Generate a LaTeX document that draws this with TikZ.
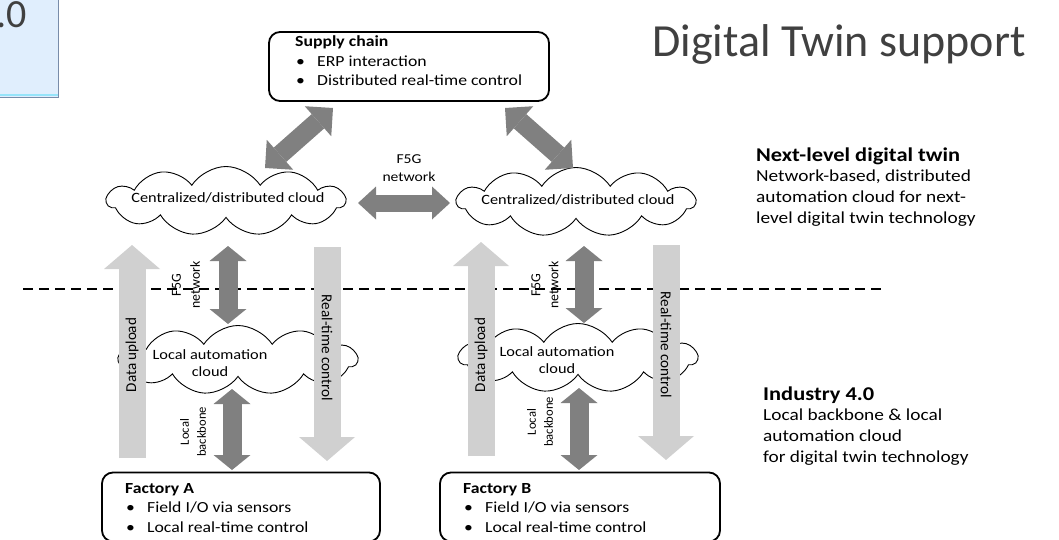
\documentclass[tikz,border=0pt]{standalone}
\usepackage{fontspec}
\setmainfont{Carlito}[FakeStretch=1.15]
\newfontfamily\plainfont{Carlito}
\usetikzlibrary{shapes.symbols,arrows.meta}
\definecolor{dgray}{RGB}{128,128,128}
\definecolor{lgray}{RGB}{208,208,208}
\definecolor{titlecol}{RGB}{64,64,64}
\definecolor{boxblue}{RGB}{224,238,253}
\definecolor{boxedge}{RGB}{120,140,170}
\definecolor{boxcyan}{RGB}{150,228,250}
\newcommand{\bul}{\hspace*{1pt}\makebox[21pt][l]{\textbullet}}
\begin{document}
\begin{tikzpicture}[x=1pt,y=-1pt,
  rbox/.style={draw=black, line width=1.8pt, rounded corners=11pt, fill=white},
  cloudsh/.style={cloud, draw=black, line width=0.9pt, fill=white, cloud puffs=11, cloud puff arc=115, aspect=3.4, inner sep=0pt, minimum width=238, minimum height=69},
  fatdark/.style={draw=dgray, line width=19pt, arrows={Triangle[length=15pt 0 0, width=37pt 0 0, line width=0pt]-Triangle[length=15pt 0 0, width=37pt 0 0, line width=0pt]}},
  fatdiag/.style={draw=dgray, line width=19pt, arrows={Triangle[length=20pt 0 0, width=40pt 0 0, line width=0pt]-Triangle[length=20pt 0 0, width=40pt 0 0, line width=0pt]}},
  fathor/.style={draw=dgray, line width=17pt, arrows={Triangle[length=18pt 0 0, width=33pt 0 0, line width=0pt]-Triangle[length=18pt 0 0, width=33pt 0 0, line width=0pt]}},
  fatlight/.style={draw=lgray, line width=27pt, arrows={-Triangle[length=24pt 0 0, width=56pt 0 0, line width=0pt]}},
  boxtext/.style={anchor=base west, inner sep=0pt, font=\fontsize{15.4}{19.5}\selectfont},
  sidetext/.style={anchor=base west, inner sep=0pt, font=\fontsize{16.8}{20.7}\selectfont},
  rottext/.style={inner sep=0pt, align=center},
  cloudtext/.style={align=center, inner sep=0pt, font=\fontsize{14.2}{17}\selectfont},
]
\useasboundingbox (0,0) rectangle (1059,540);

% partial box top-left
\fill[boxblue] (-10,-10) rectangle (59,97);
\draw[boxcyan, line width=2.5pt] (-10,95) -- (58,95);
\draw[boxedge, line width=1.2pt] (58.4,-10) -- (58.4,97.4) -- (-10,97.4);
\node[anchor=base east, inner sep=0pt, text=titlecol, font=\plainfont\fontsize{40}{40}\selectfont] (partial) at (27,28) {4.0};

% title
\node[anchor=base west, inner sep=0pt, text=titlecol, font=\plainfont\fontsize{46}{46}\selectfont] (title) at (652,57) {Digital Twin support};

% dashed separator
\coordinate (dl) at (23,289);
\coordinate (dr) at (885,289);
\draw[black, line width=1.2pt, dash pattern=on 10pt off 6pt] (dl) -- (dr);

% clouds
\node[cloudsh] (cl1) at (226,201) {};
\node[cloudsh] (cl2) at (576,202) {};
\node[cloudsh] (lc1) at (238,360) {};
\node[cloudsh] (lc2) at (578,358) {};
\node[cloudtext] (cl1t) at (228,198) {Centralized/distributed cloud};
\node[cloudtext] (cl2t) at (578,200) {Centralized/distributed cloud};
\node[cloudtext] (lc1t) at (210,363) {Local automation\\cloud};
\node[cloudtext] (lc2t) at (557,360) {Local automation\\cloud};

% boxes
\node[rbox, minimum width=280, minimum height=69, inner sep=0pt] (supply) at (409,66.5) {};
\node[rbox, minimum width=278, minimum height=69, inner sep=0pt] (facA) at (241,507) {};
\node[rbox, minimum width=280, minimum height=69, inner sep=0pt] (facB) at (580,507) {};

\node[boxtext] (supplyt) at (295,47) {\begin{tabular}[t]{@{}l@{}}\textbf{Supply chain}\\ \bul ERP interaction\\ \bul Distributed real-time control\end{tabular}};
\node[boxtext] (facAt) at (125,493) {\begin{tabular}[t]{@{}l@{}}\textbf{Factory A}\\ \bul Field I/O via sensors\\ \bul Local real-time control\end{tabular}};
\node[boxtext] (facBt) at (463,493) {\begin{tabular}[t]{@{}l@{}}\textbf{Factory B}\\ \bul Field I/O via sensors\\ \bul Local real-time control\end{tabular}};

% arrow end points
\coordinate (sa1) at (333,108); \coordinate (sa2) at (265,168);
\coordinate (sb1) at (505,108); \coordinate (sb2) at (573,168);
\coordinate (h1) at (358,203); \coordinate (h2) at (450,203);
\coordinate (ua1) at (228,246); \coordinate (ua2) at (228,324);
\coordinate (ub1) at (584,246); \coordinate (ub2) at (584,323);
\coordinate (ba1) at (232,389); \coordinate (ba2) at (232,470);
\coordinate (bb1) at (579,388); \coordinate (bb2) at (579,470);
\coordinate (da1) at (132,458); \coordinate (da2) at (132,245);
\coordinate (db1) at (481,456); \coordinate (db2) at (481,242);
\coordinate (ra1) at (327,247); \coordinate (ra2) at (327,461);
\coordinate (rb1) at (666,245); \coordinate (rb2) at (666,460);

\draw[fatdiag] (sa1) -- (sa2);
\draw[fatdiag] (sb1) -- (sb2);
\draw[fathor] (h1) -- (h2);
\draw[fatdark] (ua1) -- (ua2);
\draw[fatdark] (ub1) -- (ub2);
\draw[fatdark] (ba1) -- (ba2);
\draw[fatdark] (bb1) -- (bb2);
\draw[fatlight] (da1) -- (da2);
\draw[fatlight] (db1) -- (db2);
\draw[fatlight] (ra1) -- (ra2);
\draw[fatlight] (rb1) -- (rb2);

% arrow labels
\node[align=center, inner sep=0pt, font=\fontsize{13.6}{18}\selectfont] (f5gtop) at (409,168) {F5G\\network};
\node[rottext, rotate=90, font=\plainfont\fontsize{13.8}{19}\selectfont] (f5ga) at (186,285) {F5G\\network};
\node[rottext, rotate=90, font=\plainfont\fontsize{13.8}{18}\selectfont] (f5gb) at (545,285) {F5G\\network};
\node[rottext, rotate=90, font=\plainfont\fontsize{12.6}{17}\selectfont] (lba) at (193,432) {Local\\backbone};
\node[rottext, rotate=90, font=\plainfont\fontsize{12.6}{17}\selectfont] (lbb) at (540,422) {Local\\backbone};
\node[rottext, rotate=90, font=\plainfont\fontsize{15.1}{18}\selectfont] (dua) at (132,355) {Data upload};
\node[rottext, rotate=90, font=\plainfont\fontsize{15.1}{18}\selectfont] (dub) at (481,355) {Data upload};
\node[rottext, rotate=-90, font=\plainfont\fontsize{15.2}{18}\selectfont] (rta) at (327,348) {Real-time control};
\node[rottext, rotate=-90, font=\plainfont\fontsize{15.2}{18}\selectfont] (rtb) at (666,345) {Real-time control};

% side texts
\node[sidetext] (nl) at (756,161) {\begin{tabular}[t]{@{}l@{}}\fontsize{19.5}{20.7}\selectfont\textbf{Next-level digital twin}\\ Network-based, distributed\\ automation cloud for next-\\ level digital twin technology\end{tabular}};
\node[sidetext] (i4) at (763,400) {\begin{tabular}[t]{@{}l@{}}\fontsize{19.5}{20.7}\selectfont\textbf{Industry 4.0}\\ Local backbone \& local\\ automation cloud\\ for digital twin technology\end{tabular}};
\end{tikzpicture}
\end{document}
